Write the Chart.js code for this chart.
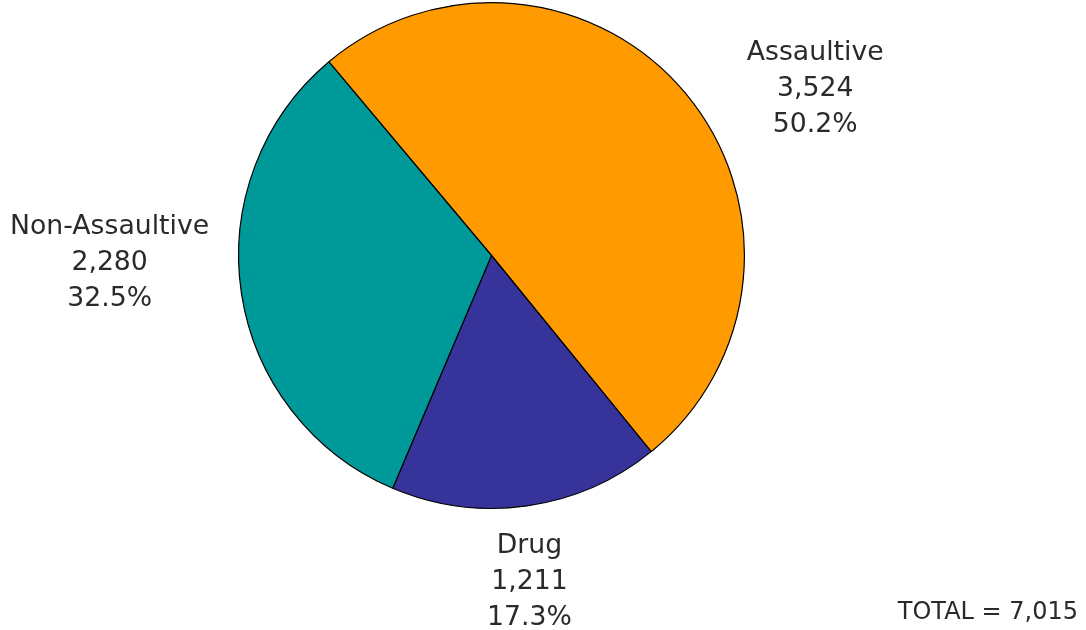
<!DOCTYPE html>
<html>
<head>
<meta charset="utf-8">
<script src="https://cdn.jsdelivr.net/npm/chart.js@4.4.0/dist/chart.umd.min.js"></script>
<style>
  html, body { margin: 0; padding: 0; background: #fff; }
  #wrap { width: 1086px; height: 630px; position: relative; }
</style>
</head>
<body>
<div id="wrap"><canvas id="c" width="1086" height="630"></canvas></div>
<script>
const categories = ["Assaultive", "Drug", "Non-Assaultive"];
const values = [3524, 1211, 2280];
const percents = ["50.2%", "17.3%", "32.5%"];
const colors = ["#FF9A00", "#36349A", "#009999"];
const totalLabel = "TOTAL = 7,015";
// label anchor offsets as multiples of pie radius (text placement only)
const labelOffsets = [[1.28, -0.66], [0.15, 1.29], [-1.51, 0.03]];

const fmt = n => n.toLocaleString("en-US");
const FONT = "Verdana, 'DejaVu Sans', sans-serif";

const labelPlugin = {
  id: "sliceLabels",
  afterDraw(chart) {
    const ctx = chart.ctx;
    const arc = chart.getDatasetMeta(0).data[0];
    const cx = arc.x, cy = arc.y, r = arc.outerRadius;
    ctx.save();
    ctx.fillStyle = "#2a2a2a";
    ctx.textAlign = "center";
    ctx.textBaseline = "middle";
    ctx.font = "26.7px " + FONT;
    const lh = 36;
    categories.forEach((cat, i) => {
      const x = cx + labelOffsets[i][0] * r;
      const y = cy + labelOffsets[i][1] * r;
      const lines = [cat, fmt(values[i]), percents[i]];
      lines.forEach((t, k) => ctx.fillText(t, x, y + (k - 1) * lh));
    });
    ctx.font = "24px " + FONT;
    ctx.textAlign = "right";
    ctx.fillText(totalLabel, chart.width - 8, chart.height - 17);
    ctx.restore();
  }
};

new Chart(document.getElementById("c"), {
  type: "pie",
  data: {
    labels: categories,
    datasets: [{
      data: values,
      backgroundColor: colors,
      borderColor: "#000000",
      borderWidth: 1.2
    }]
  },
  options: {
    responsive: false,
    animation: false,
    rotation: -40,
    layout: { padding: { top: 2, bottom: 121, left: 0, right: 103 } },
    plugins: {
      legend: { display: false },
      tooltip: { enabled: false }
    }
  },
  plugins: [labelPlugin]
});
</script>
</body>
</html>
